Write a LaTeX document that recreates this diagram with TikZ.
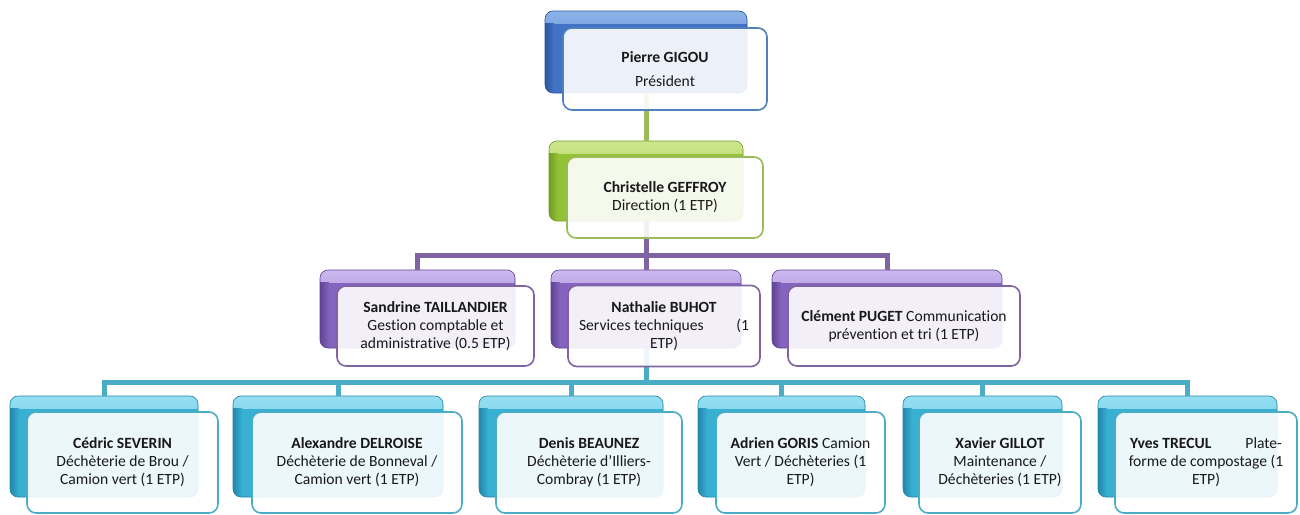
\documentclass[tikz,border=0pt]{standalone}
\usepackage{fontspec}
\setmainfont[Ligatures=NoCommon]{Carlito}
\definecolor{blM}{RGB}{66,114,196}
\definecolor{blL}{RGB}{140,178,232}
\definecolor{blD}{RGB}{45,88,160}
\definecolor{blC}{RGB}{79,129,189}
\definecolor{grM}{RGB}{148,194,55}
\definecolor{grL}{RGB}{205,230,140}
\definecolor{grD}{RGB}{115,155,38}
\definecolor{grC}{RGB}{155,187,89}
\definecolor{puM}{RGB}{132,100,190}
\definecolor{puL}{RGB}{205,185,240}
\definecolor{puD}{RGB}{95,68,148}
\definecolor{puC}{RGB}{128,100,162}
\definecolor{cyM}{RGB}{55,176,210}
\definecolor{cyL}{RGB}{150,222,242}
\definecolor{cyD}{RGB}{35,134,170}
\definecolor{cyC}{RGB}{75,172,198}
\tikzset{
  backbox/.style={rounded corners=8pt, draw=#1D, line width=0.6pt, fill=#1M, inner sep=0pt,
    path picture={
      \shade[sharp corners, top color=#1L, bottom color=#1M]
        (path picture bounding box.north west) rectangle ([yshift=-12pt]path picture bounding box.north east);
      \shade[sharp corners, left color=#1D, right color=#1M]
        ([yshift=-12pt]path picture bounding box.north west) rectangle ([xshift=9pt]path picture bounding box.south west);
    }},
  frontbox/.style={rounded corners=9pt, draw=#1C, line width=1.6pt, fill=white, fill opacity=0.9,
    text opacity=1, inner sep=0pt, align=center, text=black!90,
    font=\fontsize{15.6}{18}\selectfont},
  connline/.style={line width=5pt, draw=#1C},
}
\begin{document}
\begin{tikzpicture}[x=1pt,y=-1pt]
\useasboundingbox (0,0) rectangle (1300,514);
% back boxes
\node[backbox=bl, minimum width=202pt, minimum height=82pt] (pb) at (646,52) {};
\node[backbox=gr, minimum width=194pt, minimum height=80pt] (cb) at (646,181) {};
\node[backbox=pu, minimum width=195pt, minimum height=78pt] (sb) at (417.5,309) {};
\node[backbox=pu, minimum width=190pt, minimum height=78pt] (nb) at (646,309) {};
\node[backbox=pu, minimum width=230pt, minimum height=78pt] (kb) at (887,309) {};
\node[backbox=cy, minimum width=188pt, minimum height=101pt] (b1) at (104,446.5) {};
\node[backbox=cy, minimum width=210pt, minimum height=101pt] (b2) at (338,446.5) {};
\node[backbox=cy, minimum width=184pt, minimum height=101pt] (b3) at (571,446.5) {};
\node[backbox=cy, minimum width=167pt, minimum height=101pt] (b4) at (781.5,446.5) {};
\node[backbox=cy, minimum width=159pt, minimum height=101pt] (b5) at (982.5,446.5) {};
\node[backbox=cy, minimum width=179pt, minimum height=101pt] (b6) at (1187.5,446.5) {};
% bus coordinates
\coordinate (pbus) at (646,255.5);
\coordinate (cbus) at (646,382);
% connectors
\draw[connline=gr] (pb.south) -- (cb.north);
\draw[connline=pu] (cb.south) -- (nb.north);
\draw[connline=pu] (sb.north) -- (sb.north |- pbus) -- (kb.north |- pbus) -- (kb.north);
\draw[connline=cy] (nb.south) -- (nb.south |- cbus);
\draw[connline=cy] (b1.north) -- (b1.north |- cbus) -- (b6.north |- cbus) -- (b6.north);
\draw[connline=cy] (b2.north) -- (b2.north |- cbus);
\draw[connline=cy] (b3.north) -- (b3.north |- cbus);
\draw[connline=cy] (b4.north) -- (b4.north |- cbus);
\draw[connline=cy] (b5.north) -- (b5.north |- cbus);
% front boxes
\node[frontbox=bl, minimum width=204pt, minimum height=82pt] (pf) at (665,69)
  {\textbf{Pierre GIGOU}\\[6pt]Président};
\node[frontbox=gr, minimum width=196pt, minimum height=81pt] (cf) at (665,197.5)
  {\textbf{Christelle GEFFROY}\\Direction (1 ETP)};
\node[frontbox=pu, minimum width=197pt, minimum height=80pt] (sf) at (435.5,326)
  {\textbf{Sandrine TAILLANDIER}\\Gestion comptable et\\administrative (0.5 ETP)};
\node[frontbox=pu, minimum width=192pt, minimum height=81pt] (nf) at (664,326)
  {\textbf{Nathalie BUHOT}\\\makebox[170pt]{Services techniques\hfill(1}\\ETP)};
\node[frontbox=pu, minimum width=232pt, minimum height=80pt] (kf) at (904,326)
  {\textbf{Clément PUGET} Communication\\prévention et tri (1 ETP)};
\node[frontbox=cy, minimum width=191pt, minimum height=101pt] (f1) at (122.5,462.5)
  {\textbf{Cédric SEVERIN}\\Déchèterie de Brou /\\Camion vert (1 ETP)};
\node[frontbox=cy, minimum width=210pt, minimum height=101pt] (f2) at (357,462.5)
  {\textbf{Alexandre DELROISE}\\Déchèterie de Bonneval /\\Camion vert (1 ETP)};
\node[frontbox=cy, minimum width=186pt, minimum height=101pt] (f3) at (589,462.5)
  {\textbf{Denis BEAUNEZ}\\Déchèterie d’Illiers-\\Combray (1 ETP)};
\node[frontbox=cy, minimum width=169pt, minimum height=101pt] (f4) at (800.5,462.5)
  {\textbf{Adrien GORIS} Camion\\Vert / Déchèteries (1\\ETP)};
\node[frontbox=cy, minimum width=162pt, minimum height=101pt] (f5) at (1000,462.5)
  {\textbf{Xavier GILLOT}\\Maintenance /\\Déchèteries (1 ETP)};
\node[frontbox=cy, minimum width=182pt, minimum height=101pt] (f6) at (1206,462.5)
  {\makebox[152pt]{\textbf{Yves TRECUL}\hfill Plate-}\\forme de compostage (1\\ETP)};
\end{tikzpicture}
\end{document}
